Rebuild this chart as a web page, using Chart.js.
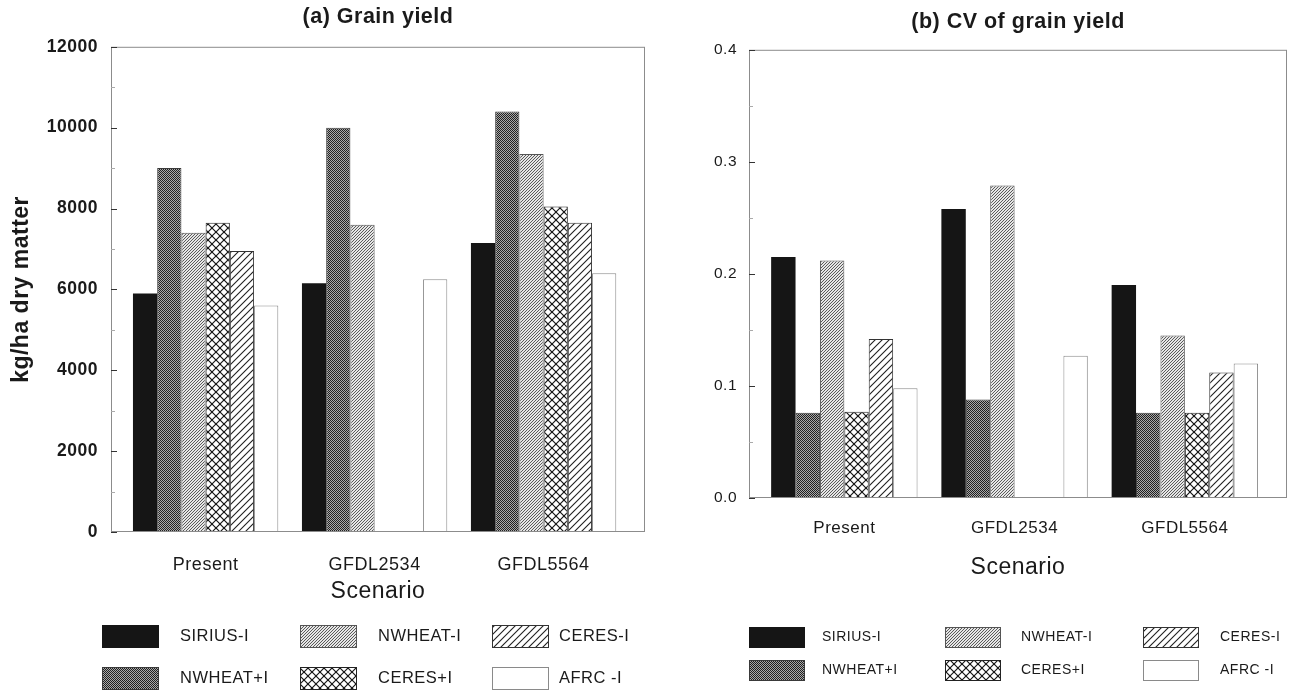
<!DOCTYPE html>
<html>
<head>
<meta charset="utf-8">
<title>Grain yield and CV of grain yield by scenario</title>
<script src="https://cdn.jsdelivr.net/npm/chart.js@4.4.1/dist/chart.umd.min.js"></script>
<style>
  html, body { margin: 0; padding: 0; background: #fff; }
  #wrap { position: relative; width: 1290px; height: 695px; overflow: hidden; }
  #yieldChart { position: absolute; left: 0; top: 0; }
  #cvChart { position: absolute; left: 690px; top: 0; }
</style>
</head>
<body>
<div id="wrap">
  <canvas id="yieldChart" width="690" height="695"></canvas>
  <canvas id="cvChart" width="600" height="695"></canvas>
</div>
<script>
const scenarios = ["Present", "GFDL2534", "GFDL5564"];
const models = ["SIRIUS-I", "NWHEAT+I", "NWHEAT-I", "CERES+I", "CERES-I", "AFRC -I"];

// grain yield, kg/ha dry matter (null = model not run)
const siriusYield = [5900, 6150, 7150];
const nwheatIrrYield = [9000, 10000, 10400];
const nwheatYield = [7400, 7600, 9350];
const ceresIrrYield = [7650, null, 8050];
const ceresYield = [6950, null, 7650];
const afrcYield = [5600, 6250, 6400];

// coefficient of variation of grain yield
const siriusCV = [0.215, 0.258, 0.19];
const nwheatIrrCV = [0.076, 0.088, 0.076];
const nwheatCV = [0.212, 0.279, 0.145];
const ceresIrrCV = [0.077, null, 0.076];
const ceresCV = [0.142, null, 0.112];
const afrcCV = [0.098, 0.127, 0.12];

const yieldTicks = [0, 2000, 4000, 6000, 8000, 10000, 12000];
const cvTicks = [0, 0.1, 0.2, 0.3, 0.4];

const ink = "#1a1a1a";
Chart.defaults.font.family = '"Liberation Sans", Arial, Helvetica, sans-serif';
Chart.defaults.color = ink;

// --- fill patterns ---
function tile(ctx, size, draw) {
  const c = document.createElement("canvas");
  c.width = size;
  c.height = size;
  const g = c.getContext("2d");
  draw(g, size);
  return ctx.createPattern(c, "repeat");
}

function diagonals(g, s, dir) {
  // dir 1 = "\" lines, -1 = "/" lines
  for (const o of [-s, 0, s]) {
    g.beginPath();
    if (dir > 0) {
      g.moveTo(o - 1, -1);
      g.lineTo(o + s + 1, s + 1);
    } else {
      g.moveTo(o - 1, s + 1);
      g.lineTo(o + s + 1, -1);
    }
    g.stroke();
  }
}

function makeFills(ctx) {
  const dots = tile(ctx, 2, (g) => {
    g.fillStyle = "#a8a8a8";
    g.fillRect(0, 0, 2, 2);
    g.fillStyle = "#202020";
    g.fillRect(0, 0, 1, 1);
    g.fillRect(1, 1, 1, 1);
  });
  const fine = tile(ctx, 3, (g, s) => {
    g.fillStyle = "#e6e6e6";
    g.fillRect(0, 0, s, s);
    g.fillStyle = "#5a5a5a";
    for (let i = 0; i < s; i++) g.fillRect(i, s - 1 - i, 1, 1);
  });
  const cross = tile(ctx, 8, (g, s) => {
    g.fillStyle = "#fff";
    g.fillRect(0, 0, s, s);
    g.strokeStyle = "#151515";
    g.lineWidth = 1.2;
    diagonals(g, s, 1);
    diagonals(g, s, -1);
  });
  const hatch = tile(ctx, 7, (g, s) => {
    g.fillStyle = "#fff";
    g.fillRect(0, 0, s, s);
    g.strokeStyle = "#1e1e1e";
    g.lineWidth = 1.1;
    diagonals(g, s, -1);
  });
  return [
    { bg: "#151515", border: "#151515" },
    { bg: dots, border: "#3a3a3a" },
    { bg: fine, border: "#555" },
    { bg: cross, border: "#222" },
    { bg: hatch, border: "#333" },
    { bg: "#ffffff", border: "#8a8a8a" },
  ];
}

// --- plugins ---
const spacing = {
  id: "spacing",
  beforeLayout(chart, args, opts) { chart.ctx.letterSpacing = opts.value || "0px"; },
  beforeDraw(chart, args, opts) { chart.ctx.letterSpacing = opts.value || "0px"; },
};

// box around the plot with short inward tick marks on the value axis
const frame = {
  id: "frame",
  afterDatasetsDraw(chart) {
    const { ctx, chartArea: a } = chart;
    const y = chart.scales.y;
    ctx.save();
    ctx.strokeStyle = "#8c8c8c";
    ctx.lineWidth = 1;
    ctx.strokeRect(a.left + 0.5, a.top + 0.5, a.right - a.left - 1, a.bottom - a.top - 1);
    const vals = y.ticks.map((t) => t.value);
    vals.forEach((v, i) => {
      const py = Math.round(y.getPixelForValue(v)) + 0.5;
      ctx.strokeStyle = "#333";
      ctx.beginPath();
      ctx.moveTo(a.left, py);
      ctx.lineTo(a.left + 6, py);
      ctx.stroke();
      if (i < vals.length - 1) {
        const pm = Math.round(y.getPixelForValue((v + vals[i + 1]) / 2)) + 0.5;
        ctx.strokeStyle = "#aaa";
        ctx.beginPath();
        ctx.moveTo(a.left, pm);
        ctx.lineTo(a.left + 4, pm);
        ctx.stroke();
      }
    });
    ctx.restore();
  },
};

// legend laid out as 2 rows x 3 columns under the axis title
const legendGrid = {
  id: "legendGrid",
  afterDraw(chart, args, o) {
    const ctx = chart.ctx;
    ctx.save();
    ctx.letterSpacing = o.spacing;
    ctx.font = o.font;
    ctx.textBaseline = "middle";
    o.order.forEach((row, r) => {
      row.forEach((di, c) => {
        const ds = chart.data.datasets[di];
        const x = o.boxX[c];
        const y = o.boxY[r];
        ctx.fillStyle = ds.backgroundColor;
        ctx.fillRect(x, y, o.boxW, o.boxH);
        ctx.strokeStyle = ds.borderColor;
        ctx.lineWidth = 1;
        ctx.strokeRect(x + 0.5, y + 0.5, o.boxW - 1, o.boxH - 1);
        ctx.fillStyle = ink;
        ctx.fillText(ds.label, o.textX[c], y + o.boxH / 2);
      });
    });
    ctx.restore();
  },
};

function buildChart(canvasId, cfg) {
  const ctx = document.getElementById(canvasId).getContext("2d");
  const fills = makeFills(ctx);
  const datasets = cfg.series.map((values, i) => ({
    label: models[i],
    data: values,
    backgroundColor: fills[i].bg,
    borderColor: fills[i].border,
    borderWidth: i === 0 ? 0 : 1,
    borderSkipped: "start",
    barPercentage: 1,
    categoryPercentage: 0.86,
  }));

  return new Chart(ctx, {
    type: "bar",
    data: { labels: scenarios.map((_, i) => i), datasets },
    plugins: [spacing, frame, legendGrid],
    options: {
      responsive: false,
      animation: false,
      events: [],
      layout: { padding: cfg.padding },
      plugins: {
        spacing: { value: "0.5px" },
        legend: { display: false },
        tooltip: { enabled: false },
        title: {
          display: true,
          text: cfg.title,
          fullSize: false,
          color: ink,
          font: { size: cfg.titleFont, weight: "bold" },
          padding: cfg.titlePadding,
        },
        legendGrid: cfg.legend,
      },
      scales: {
        x: {
          type: "linear",
          min: -0.56,
          max: 2.6,
          offset: false,
          afterBuildTicks: (s) => { s.ticks = scenarios.map((_, i) => ({ value: i })); },
          afterFit: (s) => { s.height = cfg.xHeight; },
          grid: { display: false, drawTicks: false },
          border: { display: false },
          ticks: {
            padding: cfg.xPad,
            autoSkip: false,
            maxRotation: 0,
            color: ink,
            font: { size: cfg.xFont },
            callback: (v) => scenarios[v],
          },
          title: {
            display: true,
            text: "Scenario",
            color: ink,
            font: { size: 23 },
            padding: { top: 0, bottom: cfg.xTitleBottom },
          },
        },
        y: {
          min: cfg.ticks[0],
          max: cfg.ticks[cfg.ticks.length - 1],
          afterBuildTicks: (s) => { s.ticks = cfg.ticks.map((v) => ({ value: v })); },
          afterFit: (s) => { s.width = cfg.yWidth; },
          grid: { display: false, drawTicks: false },
          border: { display: false },
          ticks: {
            padding: cfg.yPad,
            color: ink,
            font: { size: cfg.yFont, weight: cfg.yWeight },
            callback: cfg.yFormat,
          },
          title: cfg.yTitle,
        },
      },
    },
  });
}

buildChart("yieldChart", {
  series: [siriusYield, nwheatIrrYield, nwheatYield, ceresIrrYield, ceresYield, afrcYield],
  title: "(a) Grain yield",
  titleFont: 21.5,
  titlePadding: { top: 4, bottom: 17 },
  ticks: yieldTicks,
  yFormat: (v) => String(v),
  yWidth: 111,
  yPad: 13,
  yFont: 17.5,
  yWeight: "bold",
  yTitle: {
    display: true,
    text: "kg/ha dry matter",
    color: ink,
    font: { size: 23, weight: "bold" },
    padding: { top: 8, bottom: 0 },
  },
  xHeight: 75,
  xPad: 22,
  xFont: 18,
  xTitleBottom: 2,
  padding: { top: 0, left: 0, right: 45, bottom: 88 },
  legend: {
    order: [[0, 2, 4], [1, 3, 5]],
    boxX: [102, 300, 492],
    boxY: [625, 667],
    boxW: 57,
    boxH: 23,
    textX: [180, 378, 559],
    font: '16.5px "Liberation Sans", Arial, sans-serif',
    spacing: "0.5px",
  },
});

buildChart("cvChart", {
  series: [siriusCV, nwheatIrrCV, nwheatCV, ceresIrrCV, ceresCV, afrcCV],
  title: "(b) CV of grain yield",
  titleFont: 21.5,
  titlePadding: { top: 9, bottom: 15 },
  ticks: cvTicks,
  yFormat: (v) => v.toFixed(1),
  yWidth: 59,
  yPad: 12,
  yFont: 15.5,
  yWeight: "normal",
  yTitle: { display: false },
  xHeight: 85,
  xPad: 20,
  xFont: 17,
  xTitleBottom: 2,
  padding: { top: 0, left: 0, right: 3, bottom: 112 },
  legend: {
    order: [[0, 2, 4], [1, 3, 5]],
    boxX: [59, 255, 453],
    boxY: [627, 660],
    boxW: 56,
    boxH: 21,
    textX: [132, 331, 530],
    font: '14px "Liberation Sans", Arial, sans-serif',
    spacing: "0.5px",
  },
});
</script>
</body>
</html>
